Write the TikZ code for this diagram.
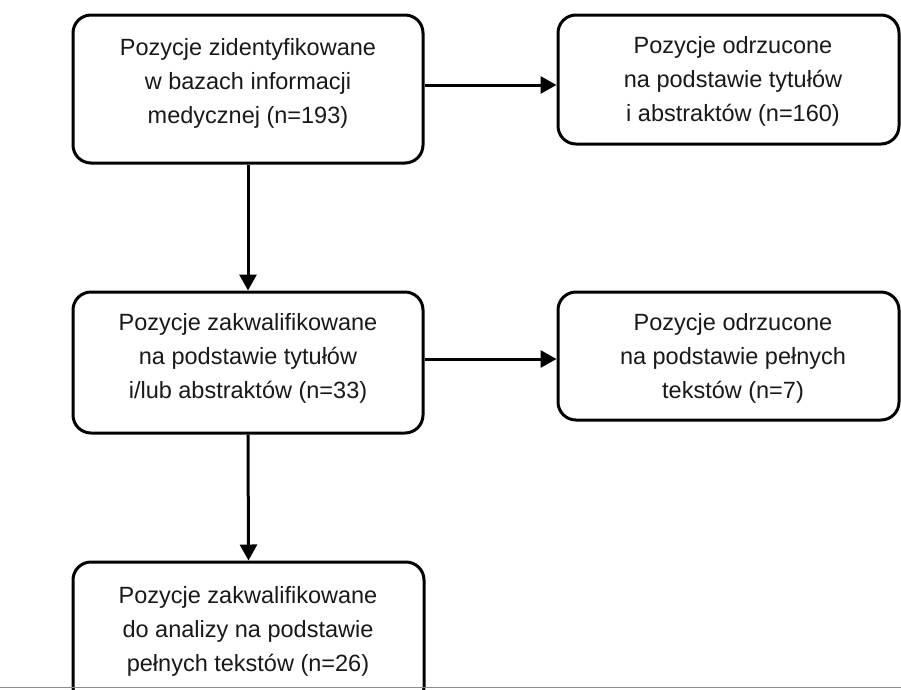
\documentclass[tikz,border=0pt]{standalone}
\usepackage{fontspec}
\setmainfont{Liberation Sans}
\usetikzlibrary{arrows.meta}
\newcommand{\firstlinestrut}{\rule{0pt}{20pt}}
\begin{document}
\begin{tikzpicture}[x=1pt,y=-1pt,
  box/.style={draw=black, line width=3pt, rounded corners=18pt, inner sep=0pt, fill=white},
  label/.style={anchor=north, align=center, inner sep=0pt, text=black!90,
    font=\fontsize{23.5}{34}\selectfont},
  arr/.style={line width=3pt, -{Triangle[length=16pt,width=17pt]}}]
\useasboundingbox (0,0) rectangle (901,689);
\clip (0,0) rectangle (901,689);
\fill[white] (0,0) rectangle (901,689);
% boxes
\node[box, minimum width=350pt, minimum height=148pt] (b1) at (248,89) {};
\node[box, minimum width=341pt, minimum height=129pt] (b2) at (728.5,79.5) {};
\node[box, minimum width=350pt, minimum height=141pt] (b3) at (248,362.5) {};
\node[box, minimum width=341pt, minimum height=128pt] (b4) at (728.5,356) {};
\node[box, minimum width=351pt, minimum height=143pt] (b5) at (248.5,633.5) {};
% texts
\node[label] (t1) at (248,35) {\firstlinestrut Pozycje zidentyfikowane\\w bazach informacji\\medycznej (n=193)};
\node[label] (t2) at (733,33) {\firstlinestrut Pozycje odrzucone\\na podstawie tytułów\\i abstraktów (n=160)};
\node[label] (t3) at (248,310) {\firstlinestrut Pozycje zakwalifikowane\\na podstawie tytułów\\i/lub abstraktów (n=33)};
\node[label] (t4) at (733,310) {\firstlinestrut Pozycje odrzucone\\na podstawie pełnych\\tekstów (n=7)};
\node[label] (t5) at (248,583) {\firstlinestrut Pozycje zakwalifikowane\\do analizy na podstawie\\pełnych tekstów (n=26)};
% connectors
\draw[arr] (b1.south) -- (b3.north);
\draw[arr] (b3.south) -- (b5.north);
\draw[arr] (b1.east |- 0,85) -- (b2.west |- 0,85);
\draw[arr] (b3.east |- 0,359) -- (b4.west |- 0,359);
% bottom rule
\coordinate (gl) at (0,687.5);
\coordinate (gr) at (901,687.5);
\draw[line width=1.5pt, color=black!45] (gl) -- (gr);
\end{tikzpicture}
\end{document}
